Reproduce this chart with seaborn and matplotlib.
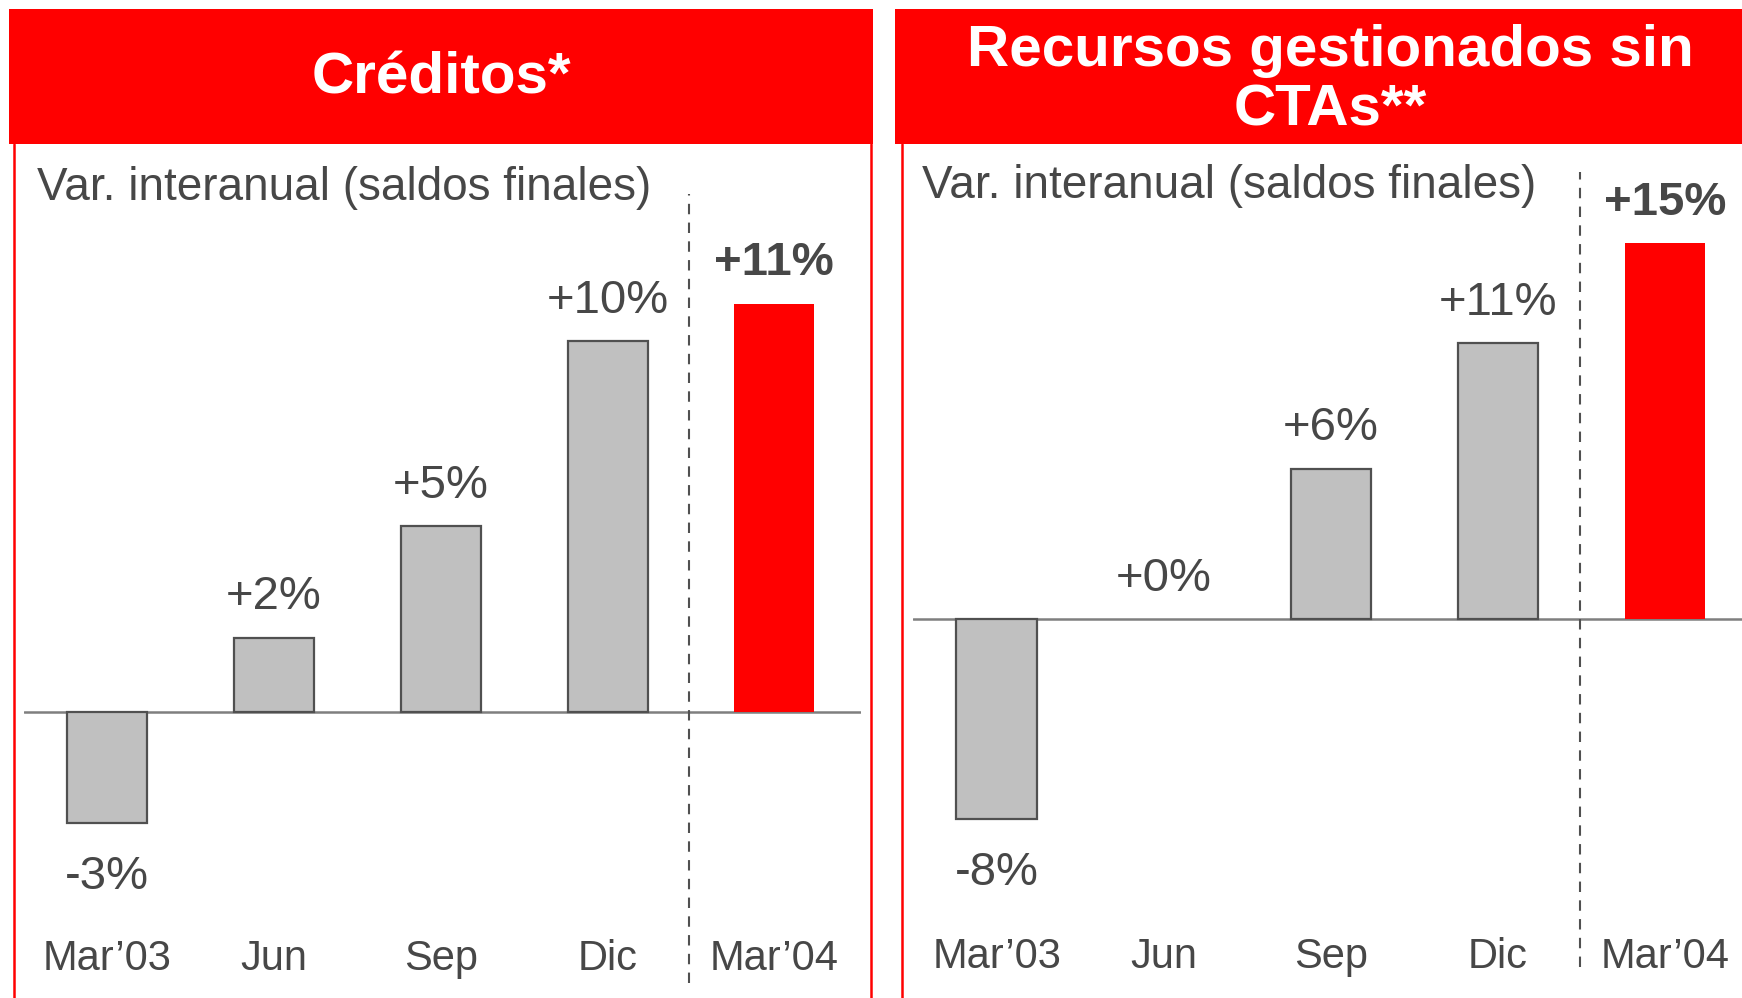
import matplotlib
matplotlib.use("Agg")
import matplotlib.pyplot as plt
from matplotlib.patches import Rectangle
from matplotlib.lines import Line2D
import seaborn as sns
import pandas as pd

# ---- data ----
categories = ["Mar\u201903", "Jun", "Sep", "Dic", "Mar\u201904"]
creditos = [-3, 2, 5, 10, 11]
creditos_labels = ["-3%", "+2%", "+5%", "+10%", "+11%"]
recursos = [-8, 0, 6, 11, 15]
recursos_labels = ["-8%", "+0%", "+6%", "+11%", "+15%"]
titles = ["Cr\u00e9ditos*", "Recursos gestionados sin\nCTAs**"]
subtitle = "Var. interanual (saldos finales)"

sns.set_theme(style="white")
plt.rcParams['font.family'] = ['Liberation Sans', 'DejaVu Sans']

W, H = 1742, 998
fig = plt.figure(figsize=(W / 100, H / 100), dpi=100)
fig.patch.set_facecolor("white")

RED = "#ff0000"
GREY = "#c0c0c0"
EDGE = "#505050"
TXT = "#474747"


def fx(px):
    return px / W


def fy(py):
    return 1 - py / H


# header boxes
fig.patches.append(Rectangle((fx(9), fy(144)), fx(873) - fx(9), fy(9) - fy(144),
                             transform=fig.transFigure, facecolor=RED, edgecolor="none", zorder=0))
fig.patches.append(Rectangle((fx(895), fy(144)), fx(1742) - fx(895), fy(9) - fy(144),
                             transform=fig.transFigure, facecolor=RED, edgecolor="none", zorder=0))
# panel side borders
for xp in (14, 871, 902):
    fig.lines.append(Line2D([fx(xp), fx(xp)], [fy(144), fy(998)], transform=fig.transFigure,
                            color=RED, lw=1.8))

fig.text(fx(441), fy(79), titles[0], color="white", fontsize=42, fontweight="bold",
         ha="center", va="center")
fig.text(fx(1330), fy(81), titles[1], color="white", fontsize=42, fontweight="bold",
         ha="center", va="center", linespacing=1.12)

fig.text(fx(37), fy(200), subtitle, color=TXT, fontsize=33, ha="left", va="baseline")
fig.text(fx(922), fy(198), subtitle, color=TXT, fontsize=33, ha="left", va="baseline")


def panel(rect, vals, labels, ylim, xlim, vline, cat_y_px):
    ax = fig.add_axes(rect)
    df = pd.DataFrame({"cat": categories, "val": vals})
    colors = [GREY, GREY, GREY, GREY, RED]
    sns.barplot(data=df, x="cat", y="val", hue="cat", palette=colors, legend=False,
                width=0.48, ax=ax, edgecolor=EDGE, linewidth=1.6, saturation=1)
    for i, p in enumerate(ax.patches):
        if i == 4 or vals[i] == 0:
            p.set_edgecolor("none")
            p.set_linewidth(0)
    ax.set_ylim(*ylim)
    ax.set_xlim(*xlim)
    ax.axhline(0, color="#7f7f7f", lw=1.8, zorder=0.5)
    ax.axvline(3.49, ymin=vline[0], ymax=vline[1], color=EDGE, lw=1.5, ls=(0, (5, 4)))
    for i, (v, lab) in enumerate(zip(vals, labels)):
        bold = i == 4
        if v >= 0:
            ax.annotate(lab, (i, v), xytext=(0, 20.5), textcoords="offset points",
                        ha="center", va="baseline", fontsize=34, color=TXT,
                        fontweight="bold" if bold else "normal")
        else:
            ax.annotate(lab, (i, v), xytext=(0, -47), textcoords="offset points",
                        ha="center", va="baseline", fontsize=34, color=TXT)
    ax.set_xticks([])
    ax.set_yticks([])
    ax.set_xlabel("")
    ax.set_ylabel("")
    for s in ax.spines.values():
        s.set_visible(False)
    ax.patch.set_alpha(0)
    # category labels
    for i, c in enumerate(categories):
        xd = ax.transData.transform((i, 0))[0]
        fig.text(xd / W, fy(cat_y_px), c, ha="center", va="baseline", fontsize=30, color=TXT)
    return ax


# left panel
panel([fx(24), 0, fx(861) - fx(24), (998 - 144) / H], creditos, creditos_labels,
      (-7.71, 15.31), (-0.5, 4.52), (0.018, 0.942), 970)
# right panel
panel([fx(913), 0, fx(1742) - fx(913), (998 - 144) / H], recursos, recursos_labels,
      (-15.13, 18.96), (-0.5, 4.46), (0.036, 0.967), 968)

fig.savefig("out.png", dpi=100, facecolor="white")
